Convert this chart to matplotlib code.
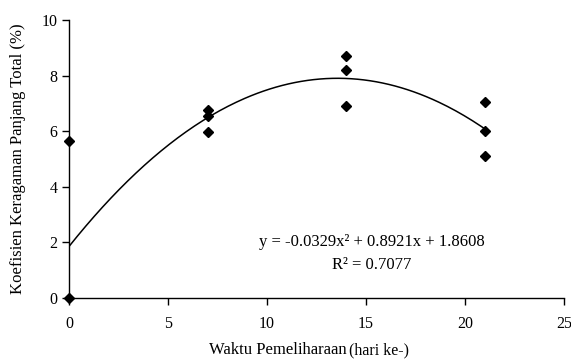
import matplotlib.pyplot as plt
import numpy as np

# data
days = [0, 0, 7, 7, 7, 14, 14, 14, 21, 21, 21]
cv = [5.65, 0.0, 6.78, 6.56, 5.98, 8.72, 8.22, 6.90, 7.05, 6.00, 5.12]
coef = [-0.0329, 0.8921, 1.8608]
r2 = 0.7077

xticks = [0, 5, 10, 15, 20, 25]
yticks = [0, 2, 4, 6, 8, 10]


def main():
	plt.rcParams['font.family'] = ['Liberation Serif', 'DejaVu Serif']

	fig = plt.figure(figsize=(5.71, 3.6), dpi=100)
	ax = fig.add_axes([0.121, 0.172, 0.867, 0.772])

	xs = np.linspace(min(days), max(days), 200)
	ax.plot(xs, np.polyval(coef, xs), color='black', lw=1.1)
	ax.plot(days, cv, linestyle='none', marker='D', markersize=5.5,
		color='black', clip_on=False, zorder=3)

	ax.set_xlim(0, 25)
	ax.set_ylim(0, 10)
	ax.set_xticks(xticks)
	ax.set_yticks(yticks)
	ax.tick_params(direction='out', length=5, width=1, labelsize=11.5, colors='black')
	ax.tick_params(axis='x', pad=8)
	for side in ('top', 'right'):
		ax.spines[side].set_visible(False)
	for side in ('left', 'bottom'):
		ax.spines[side].set_linewidth(1)

	ax.set_ylabel('Koefisien Keragaman Panjang Total (%)', fontsize=12, labelpad=11)

	eq = 'y = %.4fx² + %.4fx + %.4f\nR² = %.4f' % (coef[0], coef[1], coef[2], r2)
	ax.text(15.3, 1.6, eq, ha='center', va='center', fontsize=12,
		linespacing=1.55)

	fig.text(0.607, 0.027, 'Waktu Pemeliharaan', ha='right', va='center', fontsize=12)
	fig.text(0.612, 0.027, '(hari ke-)', ha='left', va='center', fontsize=11.5)

	fig.savefig('out.png', dpi=100)


if __name__ == "__main__":
	main()
